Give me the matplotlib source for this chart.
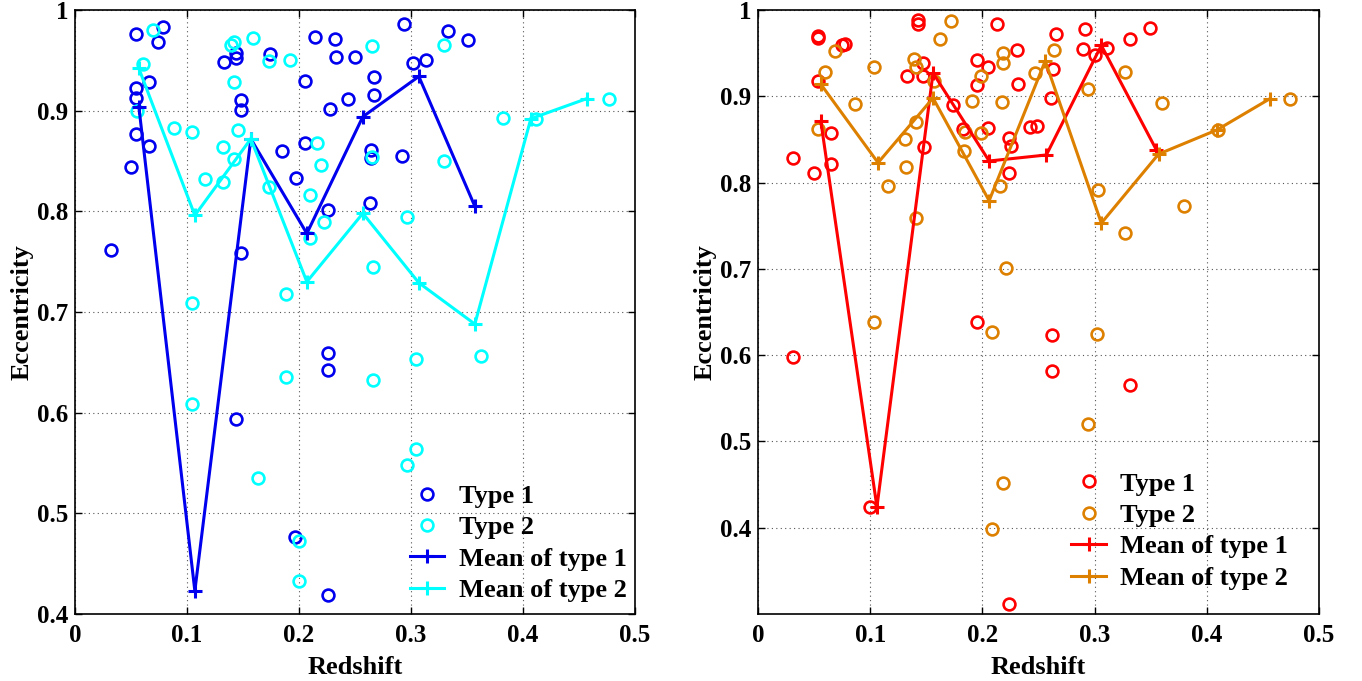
import numpy as np
import matplotlib
matplotlib.use('Agg')
import matplotlib.pyplot as plt

plt.rcParams['font.family'] = ['Liberation Serif', 'DejaVu Serif']
plt.rcParams['font.weight'] = 'bold'

# ---------------- left panel data ----------------
z1_a = [0.0543, 0.0785, 0.074, 0.0662, 0.0543, 0.0543, 0.0543, 0.0662, 0.0504, 0.032,
        0.1334, 0.1439, 0.1439, 0.1486, 0.1486, 0.1486, 0.1743, 0.1844, 0.197, 0.2053,
        0.2053, 0.2142, 0.2321, 0.2334, 0.25, 0.2277, 0.2441, 0.2262, 0.2262, 0.2262,
        0.1441, 0.1963, 0.2262, 0.2934, 0.3333, 0.3512, 0.3014, 0.3133, 0.267, 0.267,
        0.2641, 0.2641, 0.2919, 0.2635]
e1_a = [0.976, 0.983, 0.968, 0.928, 0.923, 0.913, 0.877, 0.865, 0.844, 0.762,
        0.948, 0.957, 0.952, 0.911, 0.901, 0.759, 0.956, 0.860, 0.833, 0.929,
        0.868, 0.973, 0.971, 0.953, 0.953, 0.902, 0.912, 0.801, 0.659, 0.642,
        0.594, 0.476, 0.419, 0.986, 0.979, 0.970, 0.947, 0.950, 0.933, 0.916,
        0.861, 0.853, 0.855, 0.808]

z2_a = [0.0698, 0.0606, 0.0552, 0.088, 0.1047, 0.1047, 0.1397, 0.1423, 0.1587, 0.1423,
        0.1457, 0.1319, 0.1423, 0.1164, 0.1325, 0.1728, 0.1922, 0.173, 0.2164, 0.2193,
        0.2098, 0.222, 0.2098, 0.188, 0.188, 0.1047, 0.1636, 0.1999, 0.1999, 0.2656,
        0.3292, 0.2656, 0.3292, 0.3823, 0.4118, 0.4765, 0.296, 0.2662, 0.3044, 0.3626,
        0.2662, 0.3041, 0.296]
e2_a = [0.980, 0.946, 0.900, 0.883, 0.879, 0.709, 0.965, 0.968, 0.972, 0.928,
        0.881, 0.864, 0.852, 0.832, 0.829, 0.949, 0.950, 0.824, 0.868, 0.846,
        0.816, 0.789, 0.774, 0.718, 0.635, 0.609, 0.535, 0.473, 0.433, 0.964,
        0.965, 0.854, 0.850, 0.893, 0.892, 0.912, 0.794, 0.745, 0.653, 0.656,
        0.632, 0.564, 0.548]

zm1_a = [0.057, 0.107, 0.157, 0.207, 0.257, 0.307, 0.357]
em1_a = [0.904, 0.423, 0.872, 0.778, 0.894, 0.934, 0.805]
zm2_a = [0.057, 0.107, 0.157, 0.207, 0.257, 0.307, 0.357, 0.407, 0.457]
em2_a = [0.942, 0.796, 0.872, 0.730, 0.798, 0.729, 0.688, 0.892, 0.912]

# ---------------- right panel data ----------------
z1_b = [0.0532, 0.0532, 0.0752, 0.0775, 0.0532, 0.0651, 0.0651, 0.0309, 0.0496, 0.1426,
        0.1426, 0.1325, 0.1473, 0.1473, 0.1482, 0.1955, 0.205, 0.1955, 0.1735, 0.183,
        0.205, 0.213, 0.2311, 0.2317, 0.224, 0.2258, 0.224, 0.2424, 0.2484, 0.1949,
        0.0309, 0.0998, 0.224, 0.2656, 0.2914, 0.3494, 0.3313, 0.2899, 0.3004, 0.3113,
        0.2626, 0.2611, 0.2618, 0.2618, 0.3316]
e1_b = [0.970, 0.968, 0.959, 0.961, 0.918, 0.858, 0.822, 0.829, 0.811, 0.988,
        0.984, 0.924, 0.938, 0.924, 0.841, 0.942, 0.934, 0.913, 0.890, 0.862,
        0.863, 0.984, 0.954, 0.914, 0.852, 0.842, 0.811, 0.864, 0.866, 0.638,
        0.598, 0.424, 0.312, 0.972, 0.978, 0.979, 0.966, 0.955, 0.948, 0.956,
        0.932, 0.898, 0.623, 0.582, 0.565]

z2_b = [0.1717, 0.1622, 0.0689, 0.0594, 0.1034, 0.1388, 0.1405, 0.1571, 0.0867, 0.0537,
        0.1411, 0.1307, 0.1316, 0.1159, 0.1411, 0.1904, 0.1985, 0.1845, 0.199, 0.1839,
        0.2181, 0.2181, 0.2177, 0.216, 0.2466, 0.2208, 0.1034, 0.2083, 0.2181, 0.2083,
        0.2638, 0.2944, 0.3274, 0.3603, 0.3028, 0.3274, 0.3797, 0.4097, 0.4742, 0.3021,
        0.2941]
e2_b = [0.987, 0.966, 0.952, 0.928, 0.934, 0.943, 0.934, 0.918, 0.891, 0.862,
        0.870, 0.851, 0.818, 0.796, 0.759, 0.894, 0.924, 0.859, 0.858, 0.837,
        0.950, 0.939, 0.893, 0.796, 0.927, 0.701, 0.638, 0.627, 0.452, 0.398,
        0.954, 0.908, 0.928, 0.892, 0.791, 0.742, 0.773, 0.861, 0.897, 0.624,
        0.520]

zm1_b = [0.056, 0.106, 0.156, 0.206, 0.257, 0.306, 0.355]
em1_b = [0.871, 0.424, 0.927, 0.825, 0.832, 0.959, 0.838]
zm2_b = [0.056, 0.107, 0.156, 0.206, 0.256, 0.306, 0.357, 0.409, 0.456]
em2_b = [0.914, 0.823, 0.898, 0.779, 0.941, 0.753, 0.833, 0.861, 0.897]

x_ticks = [0, 0.1, 0.2, 0.3, 0.4, 0.5]
x_ticklabels = ['0', '0.1', '0.2', '0.3', '0.4', '0.5']
y_ticks = [0.4, 0.5, 0.6, 0.7, 0.8, 0.9, 1.0]
y_ticklabels = ['0.4', '0.5', '0.6', '0.7', '0.8', '0.9', '1']

labels = ['Type 1', 'Type 2', 'Mean of type 1', 'Mean of type 2']


def draw_panel(ax, z1, e1, z2, e2, zm1, em1, zm2, em2, c1, c2, ylo, leg_anchor):
    ax.plot(z1, e1, 'o', mfc='none', mec=c1, ms=8.5, mew=1.9, zorder=3)
    ax.plot(z2, e2, 'o', mfc='none', mec=c2, ms=8.5, mew=1.9, zorder=3)
    ax.plot(zm1, em1, '-+', color=c1, lw=2.2, ms=10, mew=2.2, zorder=4)
    ax.plot(zm2, em2, '-+', color=c2, lw=2.2, ms=10, mew=2.2, zorder=4)
    ax.set_xlim(0, 0.5)
    ax.set_ylim(ylo, 1)
    ax.set_xticks(x_ticks)
    ax.set_xticklabels(x_ticklabels)
    ax.set_yticks(y_ticks)
    ax.set_yticklabels(y_ticklabels)
    ax.tick_params(direction='in', length=5, width=1, top=True, right=True,
                   labelsize=18)
    ax.tick_params(axis='x', pad=7)
    ax.tick_params(axis='y', pad=5)
    for lab in ax.get_xticklabels() + ax.get_yticklabels():
        lab.set_fontweight('bold')
    for sp in ax.spines.values():
        sp.set_linewidth(1.2)
    ax.grid(True, linestyle=(0, (1, 3)), color='#555555', linewidth=0.8)
    ax.set_axisbelow(True)
    ax.set_xlabel('Redshift', fontsize=19, fontweight='bold', labelpad=7)
    ax.set_ylabel('Eccentricity', fontsize=19, fontweight='bold', labelpad=2)
    ax.legend(labels, loc='lower right', bbox_to_anchor=leg_anchor, frameon=False,
              prop={'size': 19, 'weight': 'bold'}, borderpad=0, borderaxespad=0,
              handlelength=1.3, handletextpad=0.55, labelspacing=0.3)


fig = plt.figure(figsize=(13.62, 6.81), dpi=100)
ax1 = fig.add_axes([75 / 1362, 67 / 681, 560 / 1362, 604 / 681])
ax2 = fig.add_axes([758 / 1362, 67 / 681, 561 / 1362, 604 / 681])

draw_panel(ax1, z1_a, e1_a, z2_a, e2_a, zm1_a, em1_a, zm2_a, em2_a,
           '#0000ee', '#00ffff', 0.4, (0.985, 0.02))
draw_panel(ax2, z1_b, e1_b, z2_b, e2_b, zm1_b, em1_b, zm2_b, em2_b,
           '#ff0000', '#dd8000', 0.3, (0.945, 0.04))

fig.savefig('out.png', dpi=100)
